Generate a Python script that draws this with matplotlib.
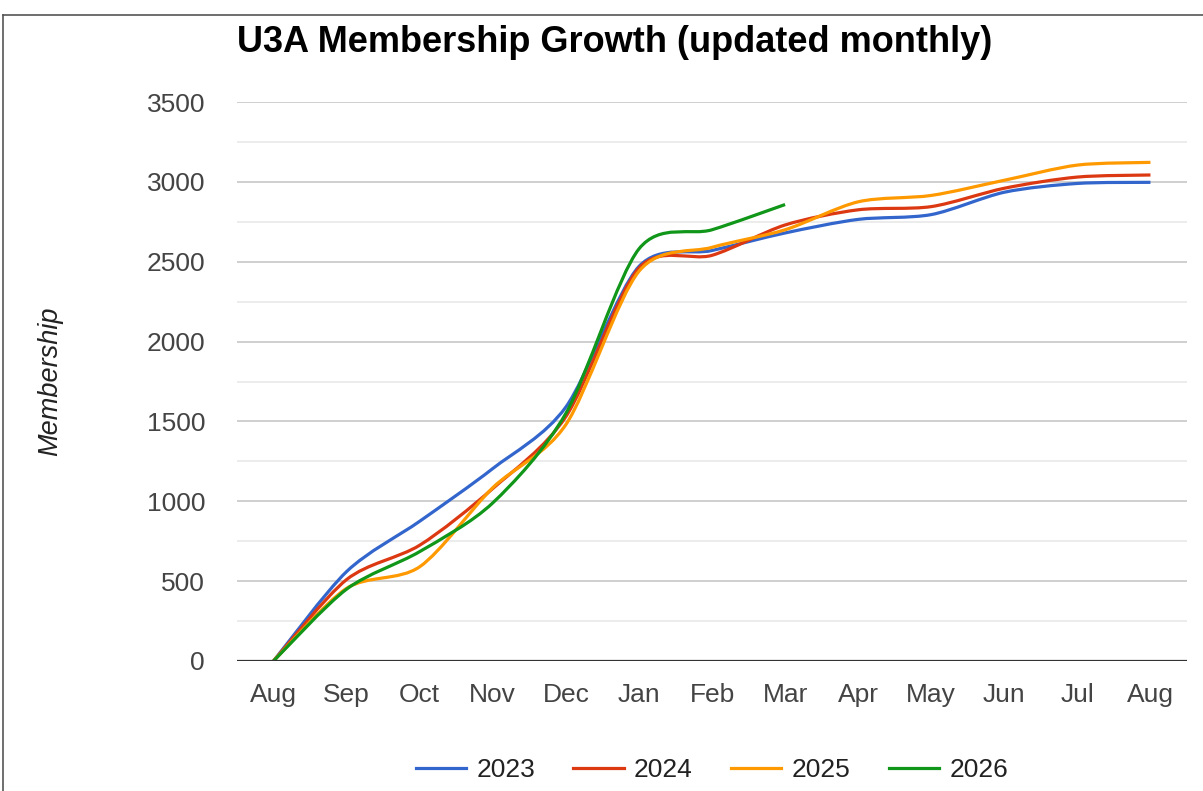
import numpy as np
import matplotlib.pyplot as plt
from matplotlib.path import Path
from matplotlib.patches import PathPatch
from matplotlib.lines import Line2D

months = ['Aug', 'Sep', 'Oct', 'Nov', 'Dec', 'Jan', 'Feb', 'Mar',
          'Apr', 'May', 'Jun', 'Jul', 'Aug']

y2023 = [0, 560, 875, 1205, 1590, 2470, 2570, 2680, 2765, 2795, 2935, 2990, 2997]
y2024 = [0, 510, 725, 1080, 1530, 2460, 2540, 2730, 2825, 2845, 2960, 3030, 3043]
y2025 = [0, 455, 590, 1085, 1480, 2440, 2590, 2700, 2875, 2915, 3010, 3105, 3122]
y2026 = [0, 450, 685, 990, 1550, 2580, 2700, 2858]

series = [('2023', y2023, '#3366cc'),
          ('2024', y2024, '#dc3912'),
          ('2025', y2025, '#ff9900'),
          ('2026', y2026, '#109618')]

plt.rcParams['font.family'] = ['Liberation Sans', 'DejaVu Sans']


def smooth_path(x, y):
    # cubic bezier through the points, like the "function" curve type
    pts = np.column_stack([x, y]).astype(float)
    n = len(pts)
    verts = [pts[0]]
    codes = [Path.MOVETO]
    for i in range(n - 1):
        p0 = pts[max(i - 1, 0)]
        p1 = pts[i]
        p2 = pts[i + 1]
        p3 = pts[min(i + 2, n - 1)]
        c1 = p1 + (p2 - p0) / 7.0
        c2 = p2 - (p3 - p1) / 7.0
        verts += [c1, c2, p2]
        codes += [Path.CURVE4] * 3
    return Path(verts, codes)


fig = plt.figure(figsize=(12.03, 7.91), dpi=100)
ax = fig.add_axes([237 / 1203, 130 / 791, 950 / 1203, 559 / 791])

for name, vals, col in series:
    xs = np.arange(len(vals))
    ax.add_patch(PathPatch(smooth_path(xs, vals), fill=False, edgecolor=col,
                           lw=2.3, capstyle='butt', zorder=3))

ax.set_xlim(-0.5, 12.5)
ax.set_ylim(0, 3500)
ax.set_xticks(range(len(months)))
ax.set_xticklabels(months)
ax.set_yticks(range(0, 3501, 500))
ax.set_yticks(range(250, 3500, 500), minor=True)
ax.grid(axis='y', which='major', color='#cccccc', lw=1.3)
ax.grid(axis='y', which='minor', color='#ebebeb', lw=1.3)
ax.axhline(0, color='#333333', lw=1.6, zorder=4)
for s in ax.spines.values():
    s.set_visible(False)
ax.tick_params(axis='both', which='both', length=0, labelsize=19,
               labelcolor='#444444')
ax.tick_params(axis='y', pad=23)
ax.tick_params(axis='x', pad=16)

ax.set_ylabel('Membership', fontsize=19.5, style='italic', color='#222222',
              labelpad=60)
fig.text(237 / 1203, 1 - 43 / 791, 'U3A Membership Growth (updated monthly)',
         fontsize=26, fontweight='bold', ha='left', va='center')

handles = [Line2D([], [], color=c, lw=2.3) for _, _, c in series]
fig.legend(handles, [n for n, _, _ in series], loc='center',
           bbox_to_anchor=(712 / 1203, 1 - 770 / 791), ncol=4, frameon=False,
           fontsize=19, handlelength=1.9, handletextpad=0.4,
           columnspacing=1.45, labelcolor='#222222')

# outer frame edges seen in the screenshot
fig.add_artist(Line2D([3 / 1203, 1], [1 - 15 / 791] * 2, color='#555555', lw=1.2))
fig.add_artist(Line2D([3 / 1203] * 2, [0, 1 - 15 / 791], color='#555555', lw=1.2))

fig.savefig('out.png', dpi=100)
